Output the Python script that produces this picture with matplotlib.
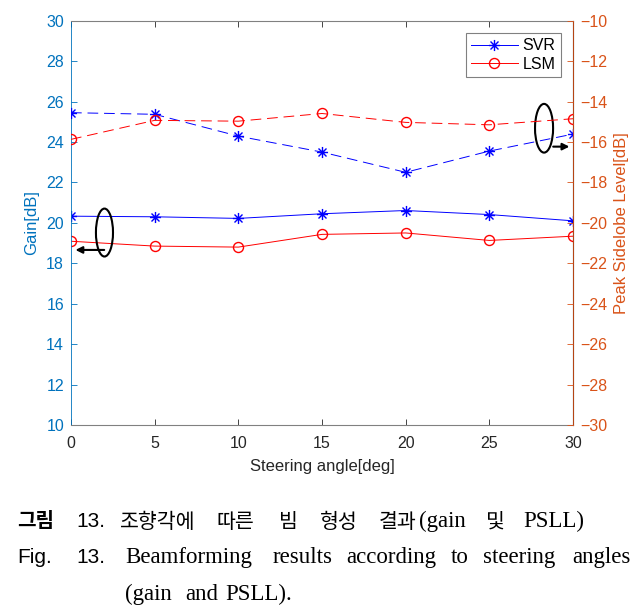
import numpy as np
import matplotlib.pyplot as plt
from matplotlib.patches import Ellipse
from matplotlib.path import Path

plt.rcParams['font.family'] = ['Liberation Sans', 'DejaVu Sans']

# steering angle vs gain / peak sidelobe level
angles = [0, 5, 10, 15, 20, 25, 30]
svr_gain = [20.33, 20.30, 20.22, 20.45, 20.61, 20.41, 20.10]
lsm_gain = [19.09, 18.85, 18.80, 19.43, 19.50, 19.13, 19.34]
svr_psll = [-14.55, -14.63, -15.71, -16.50, -17.50, -16.45, -15.61]
lsm_psll = [-15.87, -14.93, -14.97, -14.59, -15.03, -15.15, -14.85]

blue_ax = '#0072BD'
orange_ax = '#D95319'
grey = '#262626'

# matlab style asterisk (+ and x on top of each other)
r = 0.5
d = r * 0.72
star = Path([(0, -r), (0, r), (-r, 0), (r, 0), (-d, -d), (d, d), (-d, d), (d, -d)],
            [Path.MOVETO, Path.LINETO] * 4)

fig = plt.figure(figsize=(6.42, 6.10), dpi=100)
ax1 = fig.add_axes([71/642, 185/610, 502/642, 404.3/610])
ax2 = ax1.twinx()

l1, = ax1.plot(angles, svr_gain, color='b', lw=0.7, marker=star, ms=8, mew=1.0, label='SVR')
l2, = ax1.plot(angles, lsm_gain, color='r', lw=0.7, marker='o', ms=7.2, mfc='none', mew=1.0, label='LSM')
ax2.plot(angles, svr_psll, color='b', lw=0.7, ls=(0, (11, 6)), marker=star, ms=8, mew=1.0)
ax2.plot(angles, lsm_psll, color='r', lw=0.7, ls=(0, (11, 6)), marker='o', ms=7.2, mfc='none', mew=1.0)

ax1.set_xlim(0, 30)
ax1.set_ylim(10, 30)
ax2.set_ylim(-30, -10)
ax1.set_xticks(np.arange(0, 31, 5))
ax1.set_yticks(np.arange(10, 31, 2))
ax2.set_yticks(np.arange(-30, -9, 2))

ax1.tick_params(axis='x', direction='in', top=True, length=4, width=0.6,
                colors=grey, labelsize=11.5, pad=8)
ax1.tick_params(axis='y', direction='in', length=4, width=0.6, colors=blue_ax,
                labelsize=11.5, pad=5)
ax2.tick_params(axis='y', direction='in', length=4, width=0.6, colors=orange_ax,
                labelsize=11.5, pad=5)

for s in ['top', 'bottom']:
    ax1.spines[s].set_color('#808080')
    ax1.spines[s].set_linewidth(0.8)
ax1.spines['left'].set_color(blue_ax)
ax1.spines['left'].set_linewidth(0.6)
ax2.spines['right'].set_color(orange_ax)
ax2.spines['right'].set_linewidth(0.6)
ax2.spines['left'].set_visible(False)
ax2.spines['top'].set_visible(False)
ax2.spines['bottom'].set_visible(False)

ax1.set_xlabel('Steering angle[deg]', fontsize=12, color=grey, labelpad=6)
ax1.set_ylabel('Gain[dB]', fontsize=12, color=blue_ax, labelpad=5)
ax2.set_ylabel('Peak Sidelobe Level[dB]', fontsize=12, color=orange_ax, labelpad=5)

leg = ax2.legend(handles=[l1, l2], loc='upper right', bbox_to_anchor=(0.976, 0.970),
                 borderaxespad=0, fontsize=11.5, handlelength=2.9, fancybox=False,
                 framealpha=1, edgecolor='#808080', borderpad=0.35, labelspacing=0.2,
                 handletextpad=0.3)
leg.get_frame().set_linewidth(0.8)

# ellipses + arrows pointing to the axis each group belongs to
ax1.add_patch(Ellipse((2.0, 19.52), 1.02, 2.37, fill=False, ec='k', lw=1.5, zorder=5))
ax1.annotate('', xy=(0.1, 18.66), xytext=(2.15, 18.66),
             arrowprops=dict(arrowstyle='-|>', color='k', lw=1.5, mutation_scale=10))
ax1.add_patch(Ellipse((28.27, 24.68), 1.08, 2.41, fill=False, ec='k', lw=1.5, zorder=5))
ax1.annotate('', xy=(29.95, 23.77), xytext=(28.65, 23.77),
             arrowprops=dict(arrowstyle='-|>', color='k', lw=1.5, mutation_scale=10))

# caption below the chart
kr = ['Noto Sans CJK KR', 'DejaVu Sans']
serif = ['Liberation Serif', 'DejaVu Serif']
sans = ['Liberation Sans', 'DejaVu Sans']

def cap(x, y, s, fam, size, weight='normal'):
    fig.text(x/642, 1 - y/610, s, family=fam, fontsize=size, weight=weight,
             ha='left', va='baseline', color='k')

cap(17, 527, '그림', kr, 14.5, 'bold')
cap(76, 527, '13.', sans, 15)
line1 = ['조향각에', '따른', '빔', '형성', '결과', '및']
x1 = [120, 216, 279, 320, 379, 486]
for w, x in zip(line1, x1):
    cap(x, 528, w, kr, 14.8)
cap(419, 527, '(gain', serif, 16.5)
cap(523, 527, 'PSLL)', serif, 16.5)

cap(17, 563, 'Fig.', sans, 15)
cap(76, 563, '13.', sans, 15)
line2 = ['Beamforming', 'results', 'according', 'to', 'steering', 'angles']
x2 = [125, 273, 346, 451, 483, 572]
for w, x in zip(line2, x2):
    cap(x, 563, w, serif, 16.5)
line3 = ['(gain', 'and', 'PSLL).']
x3 = [125, 185, 225]
for w, x in zip(line3, x3):
    cap(x, 600, w, serif, 16.5)

fig.savefig('out.png', dpi=100)
